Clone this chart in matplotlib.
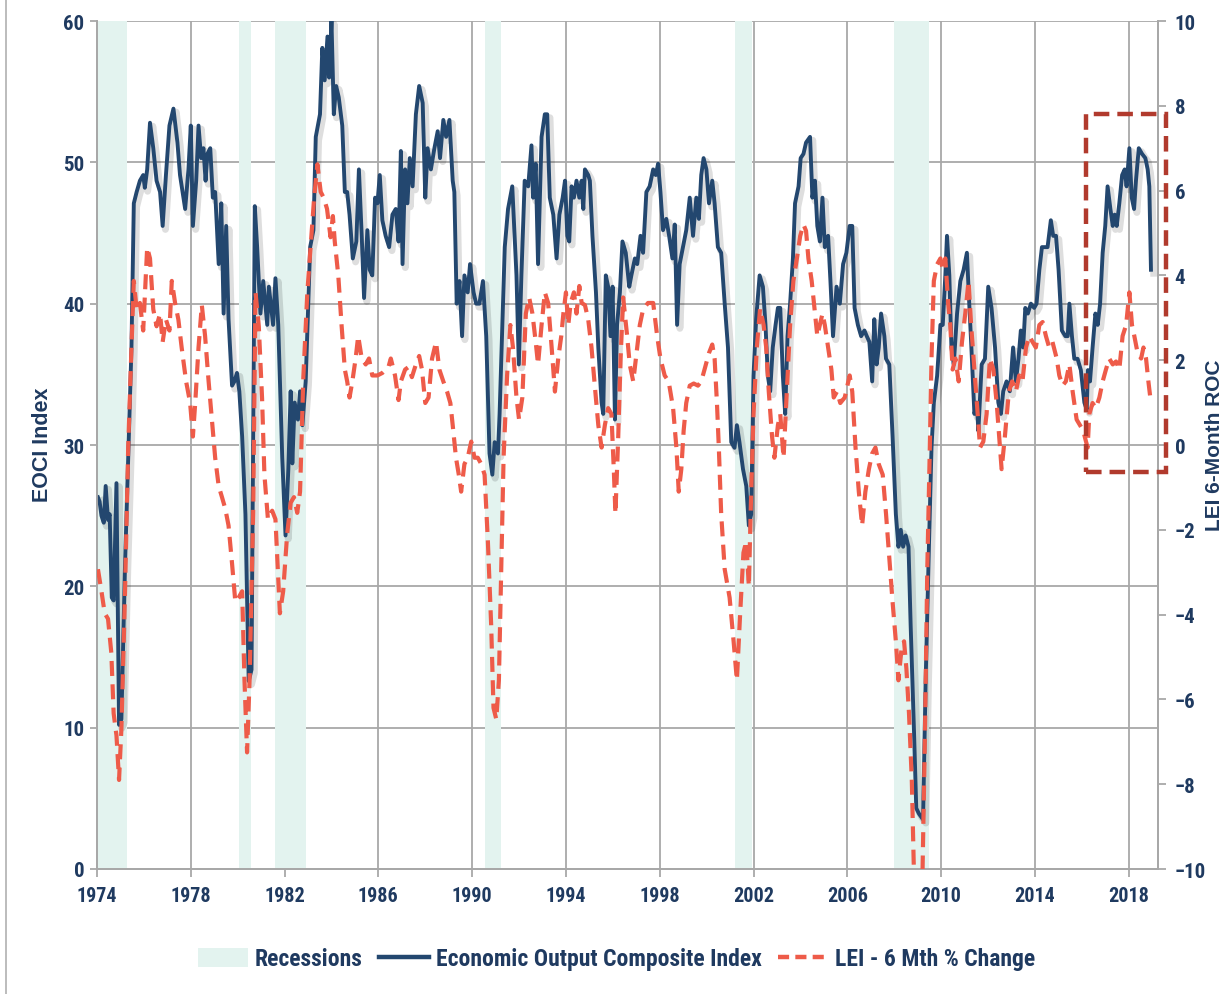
import matplotlib
matplotlib.use("Agg")
import matplotlib.pyplot as plt
import matplotlib.patheffects as pe
from matplotlib import font_manager
from matplotlib.lines import Line2D
from matplotlib.patches import Patch, Rectangle

# ---------------- data ----------------
eoci_years = [1974.04, 1974.11, 1974.19, 1974.29, 1974.37, 1974.47, 1974.54, 1974.63, 1974.71, 1974.83,
              1974.94, 1975.04, 1975.19, 1975.33, 1975.47, 1975.57, 1975.69, 1975.83, 1975.97, 1976.04,
              1976.14, 1976.26, 1976.40, 1976.54, 1976.69, 1976.80, 1976.94, 1977.09, 1977.26, 1977.43,
              1977.54, 1977.76, 1977.90, 1978.00, 1978.09, 1978.23, 1978.33, 1978.44, 1978.54, 1978.63,
              1978.71, 1978.83, 1978.94, 1979.04, 1979.19, 1979.30, 1979.40, 1979.51, 1979.61, 1979.76,
              1979.86, 1979.97, 1980.07, 1980.19, 1980.33, 1980.47, 1980.59, 1980.73, 1980.83, 1980.97,
              1981.09, 1981.26, 1981.33, 1981.51, 1981.61, 1981.73, 1981.90, 1982.04, 1982.16, 1982.26,
              1982.33, 1982.43, 1982.57, 1982.66, 1982.76, 1982.90, 1983.09, 1983.23, 1983.33, 1983.51,
              1983.61, 1983.71, 1983.83, 1983.90, 1984.00, 1984.10, 1984.20, 1984.31, 1984.46, 1984.57,
              1984.67, 1984.77, 1984.91, 1985.06, 1985.17, 1985.29, 1985.39, 1985.53, 1985.63, 1985.74,
              1985.86, 1985.96, 1986.06, 1986.17, 1986.31, 1986.46, 1986.60, 1986.74, 1986.86, 1986.96,
              1987.03, 1987.14, 1987.24, 1987.34, 1987.46, 1987.60, 1987.74, 1987.89, 1988.00, 1988.10,
              1988.24, 1988.39, 1988.53, 1988.63, 1988.77, 1988.89, 1989.03, 1989.17, 1989.24, 1989.34,
              1989.46, 1989.57, 1989.67, 1989.81, 1989.91, 1990.06, 1990.17, 1990.31, 1990.46, 1990.60,
              1990.74, 1990.86, 1990.96, 1991.10, 1991.17, 1991.39, 1991.53, 1991.71, 1991.89, 1991.99,
              1992.10, 1992.24, 1992.39, 1992.53, 1992.60, 1992.71, 1992.81, 1992.96, 1993.10, 1993.20,
              1993.31, 1993.46, 1993.60, 1993.72, 1993.86, 1993.96, 1994.06, 1994.14, 1994.24, 1994.34,
              1994.45, 1994.57, 1994.67, 1994.74, 1994.81, 1994.95, 1995.02, 1995.13, 1995.28, 1995.38,
              1995.52, 1995.59, 1995.70, 1995.80, 1995.90, 1995.99, 1996.09, 1996.18, 1996.30, 1996.41,
              1996.55, 1996.70, 1996.79, 1996.94, 1997.04, 1997.18, 1997.29, 1997.43, 1997.57, 1997.72,
              1997.83, 1997.93, 1998.03, 1998.14, 1998.28, 1998.40, 1998.54, 1998.64, 1998.74, 1998.85,
              1998.99, 1999.13, 1999.28, 1999.42, 1999.56, 1999.67, 1999.77, 1999.87, 1999.99, 2000.10,
              2000.24, 2000.34, 2000.48, 2000.62, 2000.77, 2000.91, 2001.05, 2001.19, 2001.29, 2001.40,
              2001.55, 2001.69, 2001.80, 2001.90, 2002.00, 2002.11, 2002.26, 2002.40, 2002.51, 2002.61,
              2002.71, 2002.82, 2002.94, 2003.04, 2003.14, 2003.25, 2003.35, 2003.45, 2003.56, 2003.68,
              2003.77, 2003.92, 2004.01, 2004.13, 2004.24, 2004.41, 2004.51, 2004.62, 2004.72, 2004.83,
              2004.94, 2005.04, 2005.18, 2005.28, 2005.39, 2005.54, 2005.68, 2005.82, 2005.96, 2006.10,
              2006.21, 2006.31, 2006.45, 2006.59, 2006.73, 2006.83, 2006.94, 2007.06, 2007.15, 2007.25,
              2007.34, 2007.44, 2007.58, 2007.65, 2007.79, 2007.93, 2008.07, 2008.18, 2008.28, 2008.38,
              2008.49, 2008.61, 2008.70, 2008.85, 2008.94, 2009.06, 2009.23, 2009.34, 2009.48, 2009.59,
              2009.69, 2009.83, 2009.97, 2010.07, 2010.18, 2010.25, 2010.35, 2010.44, 2010.54, 2010.68,
              2010.82, 2010.96, 2011.10, 2011.20, 2011.28, 2011.42, 2011.52, 2011.59, 2011.73, 2011.87,
              2012.01, 2012.15, 2012.30, 2012.44, 2012.55, 2012.65, 2012.79, 2012.93, 2013.07, 2013.19,
              2013.30, 2013.40, 2013.50, 2013.59, 2013.70, 2013.83, 2013.97, 2014.07, 2014.19, 2014.30,
              2014.40, 2014.54, 2014.68, 2014.78, 2014.90, 2015.01, 2015.15, 2015.30, 2015.40, 2015.47,
              2015.58, 2015.68, 2015.82, 2015.96, 2016.11, 2016.21, 2016.26, 2016.35, 2016.46, 2016.58,
              2016.68, 2016.78, 2016.89, 2017.00, 2017.10, 2017.22, 2017.32, 2017.40, 2017.49, 2017.60,
              2017.72, 2017.83, 2017.91, 2018.03, 2018.13, 2018.23, 2018.31, 2018.43, 2018.57, 2018.71,
              2018.81, 2018.88, 2018.95]
eoci_values = [26.3, 26.0, 25.0, 24.5, 27.1, 24.7, 25.1, 19.2, 19.0, 27.3,
               10.2, 10.6, 21.2, 29.1, 36.9, 47.1, 47.9, 48.7, 49.1, 48.2,
               49.5, 52.8, 51.0, 48.7, 47.9, 45.5, 49.1, 52.6, 53.8, 51.4,
               49.1, 46.7, 49.5, 52.6, 45.5, 48.7, 52.6, 50.3, 51.0, 48.7,
               50.6, 51.0, 47.5, 47.9, 42.8, 47.1, 39.3, 45.5, 38.9, 34.2,
               34.5, 35.1, 33.8, 30.6, 25.1, 13.3, 14.1, 46.9, 44.0, 39.3,
               41.6, 38.5, 41.2, 38.5, 41.8, 38.5, 29.1, 23.6, 28.3, 33.8,
               28.7, 33.0, 31.8, 33.8, 31.4, 34.5, 44.0, 45.2, 51.8, 53.4,
               58.1, 55.8, 58.9, 56.0, 60.0, 53.4, 55.4, 54.6, 52.6, 47.9,
               47.9, 46.3, 43.2, 44.4, 49.5, 44.8, 40.4, 45.2, 42.4, 42.0,
               47.5, 47.1, 49.1, 45.9, 44.8, 44.0, 46.3, 46.7, 44.4, 50.8,
               42.8, 49.5, 47.1, 50.3, 48.3, 53.4, 55.4, 54.2, 47.5, 51.0,
               49.5, 51.0, 52.2, 50.3, 53.0, 51.8, 53.0, 48.7, 47.9, 40.0,
               41.6, 37.7, 42.0, 40.8, 42.8, 40.8, 40.0, 40.0, 41.6, 37.7,
               29.4, 27.9, 30.2, 29.4, 32.2, 44.0, 46.7, 48.3, 42.0, 35.7,
               42.0, 48.7, 48.3, 51.2, 47.5, 49.9, 42.8, 51.8, 53.4, 53.4,
               47.5, 46.3, 43.2, 46.3, 47.5, 48.7, 44.8, 44.4, 48.3, 47.5,
               48.7, 47.5, 48.7, 46.7, 49.5, 49.1, 48.7, 44.8, 40.8, 36.9,
               33.0, 32.2, 42.0, 41.2, 37.7, 41.2, 31.8, 38.5, 40.8, 44.4,
               43.6, 41.2, 42.0, 43.2, 42.8, 44.8, 43.6, 47.9, 48.3, 49.5,
               49.1, 49.9, 47.9, 45.2, 46.0, 44.8, 43.2, 45.6, 38.5, 42.8,
               44.0, 45.2, 47.5, 44.8, 47.5, 46.0, 49.1, 50.3, 49.5, 47.1,
               48.7, 47.1, 44.0, 43.6, 40.0, 36.9, 30.2, 29.8, 31.4, 30.2,
               28.3, 27.1, 24.3, 25.1, 34.9, 38.9, 42.0, 41.2, 38.5, 34.9,
               33.8, 36.9, 38.5, 39.7, 39.7, 34.9, 32.2, 37.7, 40.0, 43.2,
               47.1, 48.3, 50.3, 50.6, 51.4, 51.8, 47.5, 48.7, 45.5, 44.4,
               47.5, 44.0, 44.8, 41.6, 37.7, 41.2, 40.0, 42.8, 43.6, 45.5,
               45.5, 39.7, 38.5, 37.7, 38.1, 37.7, 37.3, 34.5, 38.9, 35.7,
               36.9, 39.3, 37.7, 36.1, 35.7, 30.6, 25.1, 22.8, 24.0, 22.8,
               23.6, 22.8, 17.3, 9.4, 4.3, 3.9, 3.5, 13.3, 22.8, 29.8,
               33.0, 34.9, 38.5, 38.5, 42.0, 44.8, 42.0, 36.9, 35.7, 39.3,
               41.6, 42.4, 43.6, 40.0, 37.3, 32.2, 33.0, 31.0, 35.7, 36.1,
               41.2, 39.7, 36.9, 33.0, 32.2, 33.8, 34.5, 33.8, 36.9, 34.5,
               36.1, 38.1, 36.9, 39.7, 39.3, 40.0, 39.7, 40.0, 42.4, 44.0,
               44.0, 44.0, 45.9, 44.8, 44.8, 42.4, 38.1, 37.7, 37.7, 40.0,
               37.7, 36.1, 36.1, 35.3, 33.0, 32.5, 35.3, 34.5, 36.9, 39.3,
               38.5, 40.0, 43.6, 45.5, 48.3, 46.7, 45.5, 46.3, 45.5, 47.1,
               49.1, 49.5, 48.3, 51.0, 47.5, 46.7, 48.7, 51.0, 50.6, 50.3,
               49.5, 48.3, 42.4]

lei_years = [1974.04, 1974.19, 1974.33, 1974.47, 1974.61, 1974.71, 1974.83, 1974.94, 1975.04, 1975.19,
             1975.33, 1975.47, 1975.57, 1975.69, 1975.83, 1975.97, 1976.14, 1976.26, 1976.40, 1976.54,
             1976.69, 1976.80, 1976.94, 1977.09, 1977.19, 1977.33, 1977.47, 1977.61, 1977.80, 1977.97,
             1978.09, 1978.19, 1978.33, 1978.47, 1978.61, 1978.76, 1978.90, 1979.04, 1979.19, 1979.33,
             1979.47, 1979.61, 1979.76, 1979.90, 1980.04, 1980.19, 1980.29, 1980.40, 1980.51, 1980.66,
             1980.76, 1980.90, 1981.04, 1981.14, 1981.29, 1981.47, 1981.61, 1981.71, 1981.80, 1981.94,
             1982.11, 1982.26, 1982.40, 1982.54, 1982.66, 1982.80, 1982.97, 1983.11, 1983.26, 1983.40,
             1983.54, 1983.67, 1983.81, 1983.96, 1984.06, 1984.14, 1984.29, 1984.43, 1984.57, 1984.67,
             1984.77, 1984.89, 1985.03, 1985.14, 1985.29, 1985.46, 1985.60, 1985.74, 1985.96, 1986.17,
             1986.43, 1986.53, 1986.71, 1986.86, 1986.96, 1987.14, 1987.29, 1987.43, 1987.60, 1987.74,
             1987.86, 1988.00, 1988.14, 1988.29, 1988.46, 1988.60, 1988.77, 1988.93, 1989.07, 1989.17,
             1989.31, 1989.43, 1989.53, 1989.67, 1989.81, 1989.96, 1990.10, 1990.24, 1990.39, 1990.53,
             1990.67, 1990.81, 1990.91, 1991.03, 1991.14, 1991.24, 1991.34, 1991.49, 1991.63, 1991.74,
             1991.89, 1992.00, 1992.14, 1992.29, 1992.43, 1992.57, 1992.71, 1992.81, 1992.96, 1993.10,
             1993.24, 1993.39, 1993.53, 1993.67, 1993.80, 1993.89, 1994.00, 1994.10, 1994.20, 1994.34,
             1994.45, 1994.57, 1994.67, 1994.81, 1994.95, 1995.09, 1995.23, 1995.38, 1995.52, 1995.66,
             1995.80, 1995.94, 1996.04, 1996.11, 1996.23, 1996.33, 1996.44, 1996.61, 1996.72, 1996.87,
             1997.01, 1997.15, 1997.29, 1997.50, 1997.72, 1997.89, 1998.03, 1998.21, 1998.38, 1998.57,
             1998.71, 1998.81, 1998.92, 1999.02, 1999.13, 1999.28, 1999.45, 1999.63, 1999.77, 1999.91,
             2000.10, 2000.24, 2000.34, 2000.44, 2000.52, 2000.62, 2000.77, 2000.98, 2001.15, 2001.29,
             2001.43, 2001.57, 2001.69, 2001.80, 2001.90, 2002.00, 2002.14, 2002.28, 2002.43, 2002.54,
             2002.65, 2002.79, 2002.89, 2003.04, 2003.14, 2003.28, 2003.42, 2003.56, 2003.70, 2003.85,
             2003.99, 2004.13, 2004.24, 2004.34, 2004.48, 2004.62, 2004.72, 2004.83, 2004.94, 2005.04,
             2005.18, 2005.32, 2005.42, 2005.56, 2005.70, 2005.89, 2006.10, 2006.21, 2006.35, 2006.49,
             2006.63, 2006.77, 2006.92, 2007.06, 2007.20, 2007.34, 2007.51, 2007.65, 2007.79, 2007.93,
             2008.07, 2008.18, 2008.32, 2008.42, 2008.52, 2008.63, 2008.75, 2008.85, 2009.03, 2009.20,
             2009.31, 2009.41, 2009.51, 2009.59, 2009.69, 2009.83, 2009.97, 2010.07, 2010.18, 2010.30,
             2010.39, 2010.49, 2010.61, 2010.75, 2010.89, 2011.03, 2011.17, 2011.28, 2011.42, 2011.56,
             2011.66, 2011.80, 2011.94, 2012.08, 2012.23, 2012.37, 2012.51, 2012.58, 2012.72, 2012.89,
             2013.03, 2013.19, 2013.33, 2013.47, 2013.62, 2013.76, 2013.90, 2014.04, 2014.19, 2014.33,
             2014.47, 2014.61, 2014.75, 2014.93, 2015.04, 2015.18, 2015.32, 2015.47, 2015.61, 2015.78,
             2015.92, 2016.06, 2016.18, 2016.25, 2016.32, 2016.46, 2016.60, 2016.75, 2016.89, 2017.03,
             2017.17, 2017.32, 2017.46, 2017.60, 2017.74, 2017.89, 2018.03, 2018.14, 2018.24, 2018.38,
             2018.53, 2018.63, 2018.74, 2018.84, 2018.95]
lei_values = [-2.93, -3.45, -3.97, -4.10, -4.90, -6.33, -6.85, -7.90, -6.70, -3.60,
              -0.06, 2.30, 3.87, 3.20, 3.35, 2.70, 4.66, 4.40, 3.20, 2.80,
              3.10, 2.43, 2.96, 2.70, 3.87, 3.35, 2.96, 2.30, 1.50, 1.00,
              0.20, 1.00, 2.30, 3.30, 2.57, 1.50, 0.60, -0.30, -0.97, -1.23,
              -1.50, -1.90, -2.80, -3.70, -3.60, -3.45, -5.55, -7.25, -5.50, -1.60,
              3.60, 2.80, 1.10, -0.70, -1.75, -1.55, -1.75, -2.93, -3.97, -3.45,
              -2.10, -1.36, -1.23, -1.60, -1.10, 1.60, 3.60, 4.66, 5.83, 6.62,
              5.97, 5.83, 5.57, 4.90, 5.40, 4.80, 4.00, 2.83, 1.78, 1.50,
              1.12, 1.50, 2.04, 2.57, 2.04, 1.90, 2.04, 1.64, 1.64, 1.70,
              1.84, 2.04, 1.64, 1.06, 1.50, 1.78, 1.84, 1.60, 1.90, 2.10,
              1.78, 0.99, 1.12, 2.04, 2.43, 1.78, 1.50, 1.26, 0.99, 0.47,
              -0.30, -0.70, -1.10, -0.45, -0.30, 0.08, -0.30, -0.30, -0.45, -0.70,
              -2.27, -4.24, -6.20, -6.47, -5.55, -2.93, -0.30, 1.64, 2.83, 2.30,
              1.12, 0.60, 1.12, 3.10, 3.48, 3.10, 2.43, 1.90, 2.83, 3.60,
              3.35, 2.30, 1.26, 2.04, 2.57, 3.10, 3.60, 2.83, 3.35, 3.60,
              3.10, 3.75, 3.35, 3.30, 2.96, 2.30, 1.40, 0.47, -0.06, 0.47,
              0.87, 0.73, -0.57, -1.62, 0.20, 2.04, 3.48, 2.57, 1.90, 1.50,
              2.17, 2.83, 3.20, 3.35, 3.35, 2.57, 2.04, 1.64, 1.50, 0.87,
              -0.06, -1.10, -0.57, 0.34, 0.99, 1.40, 1.45, 1.40, 1.50, 1.78,
              2.17, 2.37, 2.04, 0.99, -0.06, -1.62, -2.93, -3.60, -4.63, -5.55,
              -3.97, -2.54, -2.27, -3.33, -1.10, 0.73, 2.30, 3.22, 2.83, 2.30,
              1.26, 0.20, -0.30, 0.47, 0.73, -0.30, 1.26, 2.83, 3.87, 4.40,
              4.93, 5.20, 5.05, 4.40, 3.87, 3.10, 2.57, 2.83, 3.10, 2.83,
              2.30, 1.78, 1.12, 1.26, 0.99, 1.12, 1.64, 1.26, -0.06, -1.10,
              -1.90, -1.10, -0.57, -0.20, -0.06, -0.45, -0.70, -1.62, -2.67, -3.70,
              -4.63, -5.55, -4.76, -4.63, -5.28, -6.33, -7.90, -10.3, -10.6, -10.3,
              -6.85, -2.93, -0.30, 2.04, 3.87, 4.26, 4.40, 4.14, 4.40, 3.35,
              2.83, 1.78, 2.04, 1.50, 2.43, 3.10, 3.87, 2.83, 1.78, 0.73,
              -0.06, 0.08, 0.73, 2.04, 1.78, 0.99, -0.06, -0.57, 0.20, 1.26,
              1.50, 1.26, 1.64, 1.50, 2.30, 2.57, 2.43, 2.30, 2.83, 2.90,
              2.57, 2.30, 2.43, 2.04, 1.64, 1.40, 1.50, 1.90, 1.26, 0.60,
              0.47, 0.34, 0.08, -0.06, 0.73, 0.99, 0.87, 1.12, 1.50, 1.78,
              2.04, 1.90, 1.97, 1.78, 2.57, 2.83, 3.60, 2.83, 2.57, 2.17,
              2.04, 2.30, 2.04, 1.50, 0.99]

recession_starts = [1973.9, 1980.06, 1981.58, 1990.55, 2001.2, 2007.98]
recession_ends = [1975.28, 1980.57, 1982.9, 1991.23, 2001.93, 2009.48]

x_ticks = [1974, 1978, 1982, 1986, 1990, 1994, 1998, 2002, 2006, 2010, 2014, 2018]
left_ticks = [0, 10, 20, 30, 40, 50, 60]
right_ticks = [-10, -8, -6, -4, -2, 0, 2, 4, 6, 8, 10]

highlight_x = [2016.2, 2019.6]
highlight_y = [-0.64, 7.8]

# ---------------- style ----------------
NAVY = "#23476f"
TXT = "#1f3a60"
RED = "#ee5b49"
BAND = "#e3f3ef"
GRID = "#a8a8a8"
BOX = "#b13a2d"

avail = {f.name for f in font_manager.fontManager.ttflist}
narrow = next((f for f in ["Liberation Sans Narrow", "Roboto Condensed", "Liberation Sans"] if f in avail), "DejaVu Sans")
wide = "Liberation Sans" if "Liberation Sans" in avail else "DejaVu Sans"
plt.rcParams["font.family"] = [narrow, "DejaVu Sans"]

fig = plt.figure(figsize=(12.26, 9.95), dpi=100)
ax = fig.add_axes([97 / 1226, 1 - 870 / 995, (1158 - 97) / 1226, (870 - 22) / 995])
ax2 = ax.twinx()

ax.set_xlim(1974, 2019.25)
ax.set_ylim(0, 60)
ax2.set_ylim(-10, 10)

ax.set_axisbelow(True)
ax.grid(True, color=GRID, linewidth=1.3, zorder=0)

for s, e in zip(recession_starts, recession_ends):
    ax.axvspan(s, e, color=BAND, lw=0, zorder=1)

ax.plot(eoci_years, eoci_values, color=NAVY, lw=2.8, zorder=3,
        solid_joinstyle="round",
        path_effects=[pe.SimpleLineShadow(offset=(2, -2.5), shadow_color="#000000", alpha=0.13, linewidth=5),
                      pe.Normal()])
ax2.plot(lei_years, lei_values, color=RED, lw=3.0, linestyle=(0, (3.6, 2.0)), zorder=4)

rect = Rectangle((highlight_x[0], highlight_y[0]), highlight_x[1] - highlight_x[0],
                 highlight_y[1] - highlight_y[0], fill=False, edgecolor=BOX, lw=3.2,
                 linestyle=(0, (3.5, 1.8)), clip_on=False, zorder=6)
ax2.add_patch(rect)

ax.set_xticks(x_ticks)
ax.set_yticks(left_ticks)
ax2.set_yticks(right_ticks)
ax.set_xticklabels([str(t) for t in x_ticks])

for a in (ax, ax2):
    for sp in a.spines.values():
        sp.set_color(GRID)
        sp.set_linewidth(1.3)
    a.spines["top"].set_visible(False)

ax.tick_params(axis="x", colors=GRID, labelcolor=TXT, labelsize=14.5, length=6, width=1.3, pad=6)
ax.tick_params(axis="y", colors=GRID, labelcolor=TXT, labelsize=15, length=5, width=1.3, pad=4)
ax2.tick_params(axis="y", colors=GRID, labelcolor=TXT, labelsize=15, length=6, width=1.3, pad=6)
for lab in ax.get_xticklabels() + ax.get_yticklabels() + ax2.get_yticklabels():
    lab.set_fontweight("bold")

fig.text(43 / 1226, 1 - 445 / 995, "EOCI Index", rotation=90, ha="center", va="center",
         color=TXT, fontsize=15.5, fontweight="bold", family=[wide, "DejaVu Sans"])
fig.text(1215 / 1226, 1 - 445 / 995, "LEI 6-Month ROC", rotation=90, ha="center", va="center",
         color=TXT, fontsize=15, fontweight="bold", family=[wide, "DejaVu Sans"])

# chart frame on left
fig.add_artist(Line2D([6 / 1226, 6 / 1226], [0, 1], transform=fig.transFigure, color="#b0b0b0", lw=1.2))

handles = [Patch(facecolor=BAND, edgecolor="none"),
           Line2D([0], [0], color=NAVY, lw=3.2),
           Line2D([0], [0], color=RED, lw=3.2, linestyle=(0, (2.5, 1.4)))]
labels = ["Recessions", "Economic Output Composite Index", "LEI - 6 Mth % Change"]
leg = fig.legend(handles, labels, loc="center", bbox_to_anchor=(0.503, 1 - 960 / 995), ncol=3,
                 frameon=False, handlelength=2.1, handleheight=0.9, handletextpad=0.3,
                 columnspacing=0.7, prop={"weight": "bold", "size": 17})
for t in leg.get_texts():
    t.set_color(TXT)

fig.savefig("out.png", dpi=100)
